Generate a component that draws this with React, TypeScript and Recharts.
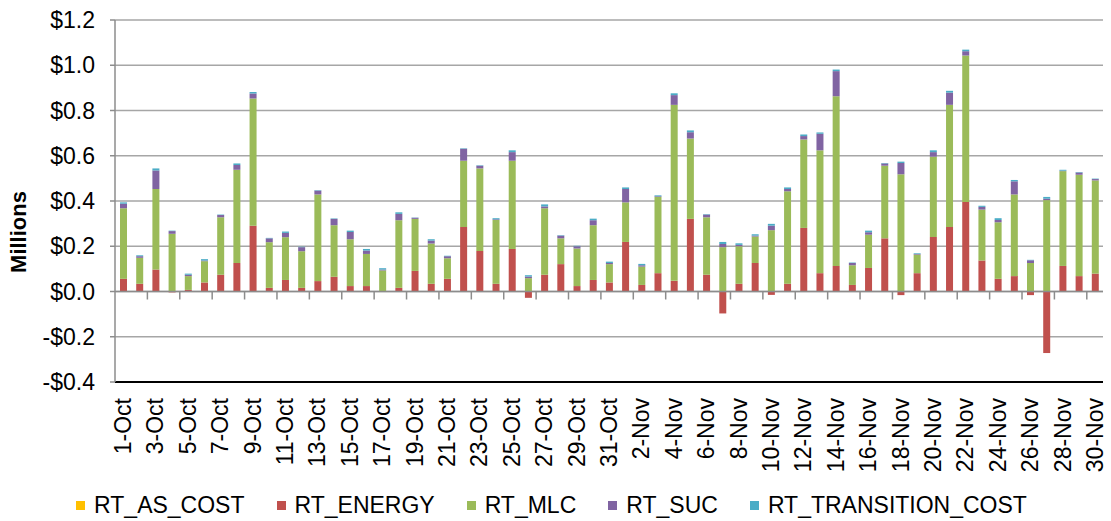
import React from 'react';
import {
  BarChart,
  Bar,
  XAxis,
  YAxis,
  CartesianGrid,
  Legend,
  ReferenceLine,
  Label,
} from 'recharts';

// categories: 1-Oct .. 31-Oct, 1-Nov .. 30-Nov
const octDays = Array.from({ length: 31 }, (_, i) => `${i + 1}-Oct`);
const novDays = Array.from({ length: 30 }, (_, i) => `${i + 1}-Nov`);
const days = [...octDays, ...novDays];

// values in $ millions
const asCost = days.map(() => 0);

const energy = [
  0.056, 0.034, 0.097, -0.004, 0.007, 0.040, 0.074, 0.126, 0.291, 0.016,
  0.051, 0.016, 0.046, 0.065, 0.024, 0.024, 0.002, 0.016, 0.091, 0.034,
  0.056, 0.285, 0.179, 0.034, 0.188, -0.028, 0.074, 0.121, 0.024, 0.051,
  0.040,
  0.219, 0.029, 0.081, 0.047, 0.321, 0.074, -0.097, 0.034, 0.126, -0.015,
  0.034, 0.281, 0.081, 0.113, 0.029, 0.104, 0.235, -0.016, 0.081, 0.241,
  0.285, 0.396, 0.137, 0.056, 0.068, -0.016, -0.272, 0.113, 0.068, 0.079,
];

const mlc = [
  0.312, 0.115, 0.356, 0.255, 0.061, 0.094, 0.254, 0.412, 0.562, 0.202,
  0.189, 0.162, 0.383, 0.228, 0.207, 0.142, 0.091, 0.299, 0.230, 0.178,
  0.091, 0.293, 0.365, 0.282, 0.390, 0.059, 0.294, 0.114, 0.166, 0.242,
  0.081,
  0.175, 0.081, 0.337, 0.778, 0.355, 0.254, 0.196, 0.166, 0.117, 0.271,
  0.409, 0.391, 0.543, 0.750, 0.087, 0.147, 0.321, 0.518, 0.082, 0.355,
  0.540, 0.647, 0.225, 0.250, 0.361, 0.126, 0.404, 0.419, 0.448, 0.412,
];

const suc = [
  0.020, 0.007, 0.082, 0.012, 0.006, 0.003, 0.010, 0.021, 0.022, 0.017,
  0.019, 0.018, 0.017, 0.028, 0.032, 0.015, 0.004, 0.028, 0.005, 0.013,
  0.009, 0.053, 0.012, 0.003, 0.038, 0.007, 0.008, 0.012, 0.010, 0.022,
  0.005,
  0.059, 0.006, 0.003, 0.043, 0.028, 0.012, 0.014, 0.006, 0.004, 0.020,
  0.010, 0.015, 0.073, 0.111, 0.010, 0.011, 0.010, 0.050, 0.003, 0.020,
  0.054, 0.019, 0.012, 0.010, 0.058, 0.012, 0.006, 0.002, 0.010, 0.006,
];

const transition = [
  0.006, 0.004, 0.009, 0.002, 0.005, 0.006, 0.002, 0.007, 0.007, 0.002,
  0.006, 0.002, 0.002, 0.002, 0.006, 0.007, 0.006, 0.007, 0.001, 0.006,
  0.002, 0.002, 0.002, 0.005, 0.008, 0.006, 0.009, 0.002, 0.002, 0.007,
  0.006,
  0.007, 0.006, 0.004, 0.008, 0.008, 0.002, 0.009, 0.007, 0.006, 0.008,
  0.007, 0.007, 0.006, 0.007, 0.002, 0.007, 0.002, 0.006, 0.003, 0.008,
  0.008, 0.007, 0.005, 0.008, 0.006, 0.002, 0.008, 0.004, 0.002, 0.002,
];

const yTicks = [-0.4, -0.2, 0, 0.2, 0.4, 0.6, 0.8, 1.0, 1.2];

const series = [
  { key: 'RT_AS_COST', color: '#FFC000' },
  { key: 'RT_ENERGY', color: '#C0504D' },
  { key: 'RT_MLC', color: '#9BBB59' },
  { key: 'RT_SUC', color: '#8064A2' },
  { key: 'RT_TRANSITION_COST', color: '#4BACC6' },
];

const data = days.map((day, i) => ({
  day,
  RT_AS_COST: asCost[i],
  RT_ENERGY: energy[i],
  RT_MLC: mlc[i],
  RT_SUC: suc[i],
  RT_TRANSITION_COST: transition[i],
}));

const FONT = '"Liberation Sans", Arial, sans-serif';

const money = (v: number) => (v < 0 ? `-$${Math.abs(v).toFixed(1)}` : `$${v.toFixed(1)}`);

// rotated date labels below the plot
const DayTick = ({ x, y, payload }: any) => (
  <text
    x={x}
    y={y}
    transform={`rotate(-90 ${x} ${y})`}
    textAnchor="end"
    dominantBaseline="central"
    fontFamily={FONT}
    fontSize={23}
    fill="#000"
  >
    {payload.value}
  </text>
);

// zero line with Excel-style category tick marks every 2 days
const ZeroAxis = (props: any) => {
  const { x1, y1, x2 } = props;
  const step = (x2 - x1) / days.length;
  const marks = [];
  for (let k = 2; k < days.length; k += 2) {
    const x = x1 + step * k;
    marks.push(<line key={k} x1={x} x2={x} y1={y1} y2={y1 + 8} stroke="#8c8c8c" strokeWidth={1.5} />);
  }
  return (
    <g>
      <line x1={x1} x2={x2} y1={y1} y2={y1} stroke="#8c8c8c" strokeWidth={1.5} />
      {marks}
    </g>
  );
};

const LegendContent = ({ payload }: any) => (
  <div
    style={{
      display: 'flex',
      justifyContent: 'center',
      alignItems: 'center',
      height: 40,
      paddingTop: 8,
      boxSizing: 'border-box',
      fontFamily: FONT,
      fontSize: 23,
      color: '#000',
    }}
  >
    {(payload || []).map((entry: any, i: number) => (
      <span
        key={entry.value}
        style={{ display: 'inline-flex', alignItems: 'center', marginRight: i < payload.length - 1 ? 32 : 0 }}
      >
        <span style={{ width: 9, height: 9, background: entry.color, marginRight: 9, display: 'inline-block' }} />
        {entry.value}
      </span>
    ))}
  </div>
);

export default function App() {
  return (
    <div style={{ position: 'absolute', left: 0, top: 0, background: '#fff' }}>
      <BarChart
        width={1111}
        height={521}
        data={data}
        stackOffset="sign"
        barSize={7}
        margin={{ top: 20, right: 8, left: 0, bottom: 0 }}
      >
        <CartesianGrid vertical={false} stroke="#a6a6a6" strokeWidth={1.5} />
        <XAxis
          dataKey="day"
          interval={1}
          tick={<DayTick />}
          tickLine={false}
          tickSize={0}
          tickMargin={16}
          height={99}
          axisLine={{ stroke: '#000', strokeWidth: 2 }}
        />
        <XAxis
          xAxisId="top"
          orientation="top"
          dataKey="day"
          height={0}
          tick={false}
          tickLine={false}
          axisLine={{ stroke: '#404040', strokeWidth: 2 }}
        />
        <YAxis
          width={115}
          domain={[-0.4, 1.2]}
          ticks={yTicks}
          allowDataOverflow
          tickFormatter={money}
          tickSize={5}
          tickMargin={15}
          tick={{ fontFamily: FONT, fontSize: 23, fill: '#000' }}
          tickLine={{ stroke: '#8c8c8c', strokeWidth: 1.5 }}
          axisLine={{ stroke: '#8c8c8c', strokeWidth: 1.5 }}
        >
          <Label
            content={({ viewBox }: any) => (
              <text
                x={viewBox.x + 18}
                y={viewBox.y + viewBox.height / 2 + 31}
                transform={`rotate(-90 ${viewBox.x + 18} ${viewBox.y + viewBox.height / 2 + 31})`}
                textAnchor="middle"
                dominantBaseline="central"
                fontFamily={FONT}
                fontSize={22}
                fontWeight="bold"
                fill="#000"
              >
                Millions
              </text>
            )}
          />
        </YAxis>
        <YAxis
          yAxisId="right"
          orientation="right"
          width={0}
          domain={[-0.4, 1.2]}
          tick={false}
          tickLine={false}
          axisLine={{ stroke: '#505050', strokeWidth: 2 }}
        />
        <Legend verticalAlign="bottom" content={<LegendContent />} />
        {series.map((s) => (
          <Bar key={s.key} dataKey={s.key} stackId="a" fill={s.color} isAnimationActive={false} />
        ))}
        <ReferenceLine y={0} shape={<ZeroAxis />} />
      </BarChart>
    </div>
  );
}
